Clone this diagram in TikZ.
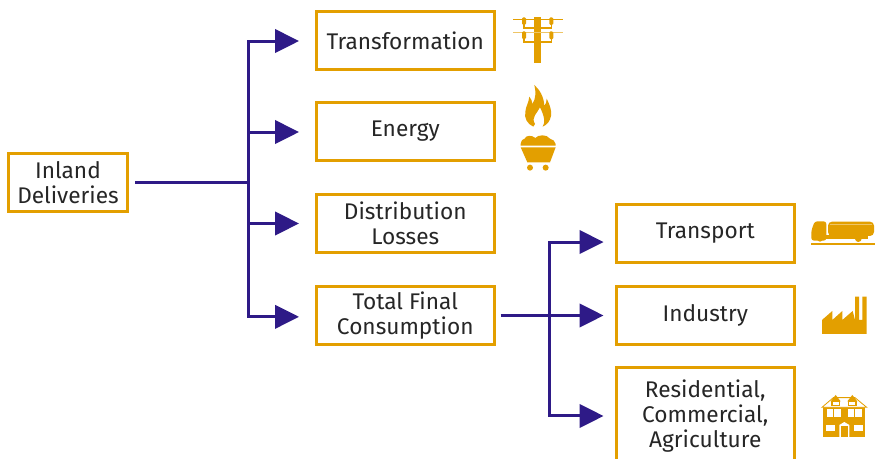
\documentclass[tikz,border=0pt]{standalone}
\usepackage{fontspec}
\setmainfont{Fira Sans}
\usetikzlibrary{arrows.meta}

\definecolor{boxOrange}{HTML}{E39F00}
\definecolor{linkBlue}{HTML}{2E1A87}

\newcommand{\boxWide}{177.5}
\newcommand{\boxHigh}{57.5}
\newcommand{\trunkOne}{248.5}
\newcommand{\trunkTwo}{549}

\tikzset{
  flowBox/.style={draw=boxOrange, line width=2.25pt, align=center, inner sep=0pt,
    minimum width=\boxWide*0.75pt, minimum height=\boxHigh*0.75pt,
    font=\fontsize{17pt}{18.8pt}\selectfont, text=black!85},
  flowLink/.style={draw=linkBlue, line width=2.25pt, shorten >=12pt,
    -{Triangle[length=18pt,width=17.5pt,fill=linkBlue]}},
  flowLine/.style={draw=linkBlue, line width=2.25pt},
  iconFill/.style={fill=boxOrange, draw=none}
}

\begin{document}
\begin{tikzpicture}[x=0.75pt,y=-0.75pt]

  \path[use as bounding box, clip] (0,0) rectangle (875,459);
  \fill[white] (0,0) rectangle (875,459);

  % Boxes:
  \node[flowBox, minimum width=119*0.75pt] (inland) at (68,182.5) {Inland\\Deliveries};
  \node[flowBox] (transformation) at (405.25,40.5)  {Transformation};
  \node[flowBox] (energy)         at (405.25,131.5) {Energy};
  \node[flowBox] (distribution)   at (405.25,223.5) {Distribution\\Losses};
  \node[flowBox] (finalUse)       at (405.25,315.5) {Total Final\\Consumption};
  \node[flowBox] (transport)      at (705.25,233.5) {Transport};
  \node[flowBox] (industry)       at (705.25,315.5) {Industry};
  \node[flowBox, minimum height=96*0.75pt] (residential) at (705.25,416) {Residential,\\Commercial,\\Agriculture};

  % Free ends:
  \coordinate (hubOne) at (\trunkOne,182.5);
  \coordinate (hubTwo) at (\trunkTwo,316);

  % Links, first level:
  \draw[flowLine, shorten <=4.5pt] (inland.east) -- (hubOne);
  \draw[flowLink] (hubOne) |- ([yshift=-0.4pt]transformation.west);
  \draw[flowLink] (hubOne) |- ([yshift=-0.4pt]energy.west);
  \draw[flowLink] (hubOne) |- (distribution.west);
  \draw[flowLink] (hubOne) |- ([yshift=-1pt]finalUse.west);

  % Links, second level:
  \draw[flowLink, shorten <=3.75pt, shorten >=8.6pt] (finalUse.east) -- (industry.west);
  \draw[flowLink, shorten >=8.6pt] (hubTwo) |- ([yshift=-6.4pt]transport.west);
  \draw[flowLink, shorten >=8.6pt] (hubTwo) |- (residential.west);

  % Icons:
    % Pylon:
    \begin{scope}[shift={(500,0)},scale=0.3333]
      \fill[iconFill] (103,50) rectangle (123,190);
      \draw[boxOrange, line width=0.75pt] (40,58) -- (188,58);
      \draw[boxOrange!60, line width=0.75pt] (40,98) -- (188,98);
      \fill[iconFill] (70,81) rectangle (156,87);
      \fill[iconFill] (70,123) rectangle (156,130);
      \foreach \px in {72,154} {
        \fill[iconFill, rounded corners=1pt] (\px-6,52) rectangle (\px+6,75);
        \fill[iconFill, rounded corners=1pt] (\px-6,94) rectangle (\px+6,118);
        \fill[iconFill] (\px-2,75) rectangle (\px+2,81);
        \fill[iconFill] (\px-2,118) rectangle (\px+2,123);
      }
    \end{scope}
    % Flame:
    \begin{scope}[shift={(500,0)},scale=0.3333]
      \fill[iconFill, even odd rule] (100,380) .. controls (82,372) and (72,355) .. (76,335)
        .. controls (78,318) and (86,308) .. (88,290) .. controls (94,296) and (96,304) .. (97,312)
        .. controls (108,296) and (108,275) .. (103,255) .. controls (118,268) and (132,290) .. (133,318)
        .. controls (138,312) and (140,304) .. (140,296) .. controls (148,312) and (156,330) .. (153,348)
        .. controls (150,365) and (140,375) .. (128,380)
        .. controls (136,368) and (134,350) .. (120,322)
        .. controls (112,340) and (92,352) .. (105,372) -- cycle;
    % Coal cart:
      \fill[iconFill] (62,432) .. controls (64,422) and (68,416) .. (74,416) .. controls (78,405) and (96,405) .. (106,414)
        .. controls (114,404) and (140,402) .. (150,416) .. controls (158,418) and (166,424) .. (167,432)
        -- (167,437) -- (62,437) -- cycle;
      \fill[iconFill] (62,442) -- (167,442) -- (150,487) -- (82,487) -- cycle;
      \fill[iconFill] (90,503) circle[radius=9];
      \fill[iconFill] (137,503) circle[radius=9];
    \end{scope}
    % Truck:
    \begin{scope}[shift={(800,210)},scale=0.3333]
      \fill[iconFill] (33,98) rectangle (225,104);
      \fill[iconFill, rounded corners=2pt] (34,92) -- (34,62) -- (44,34) -- (79,34) -- (79,92) -- cycle;
      \fill[iconFill, rounded corners=3pt] (84,35) rectangle (222,78);
      \fill[iconFill] (79,76) rectangle (205,87);
      \fill[iconFill] (60,86) circle[radius=9];
      \fill[iconFill] (175,86) circle[radius=10];
      \draw[boxOrange!60, line width=0.4pt] (90,42) -- (216,42);
    \end{scope}
    % Factory:
    \begin{scope}[shift={(800,210)},scale=0.3333]
      \fill[iconFill] (66,372) -- (66,330) -- (97,303) -- (97,330) -- (127,303) -- (127,330) -- (158,303)
        -- (165,330) -- (165,260) -- (177,260) -- (177,330) -- (187,330) -- (187,260) -- (200,260) -- (200,372) -- cycle;
    \end{scope}
    % House:
    \begin{scope}[shift={(800,210)},scale=0.3333]
      \fill[iconFill] (70,592) rectangle (196,682);
      \draw[boxOrange, line width=0.6pt, fill=white] (66,592) -- (100,563) -- (165,563) -- (200,592) -- cycle;
      \foreach \dx in {107,157} {
        \fill[iconFill] (\dx-15,574) -- (\dx,555) -- (\dx+15,574) -- cycle;
        \fill[iconFill] (\dx-13,574) rectangle (\dx+13,588);
        \fill[white] (\dx-9,575) rectangle (\dx+9,585);
      }
      \foreach \wx in {81,103,143,166} {
        \fill[white] (\wx,597) rectangle (\wx+19,620);
      }
      \fill[white] (78,646) rectangle (104,664);
      \fill[white] (162,646) rectangle (188,664);
      \fill[white] (118,682) -- (118,645) -- (133,636) -- (148,645) -- (148,682) -- cycle;
      \fill[iconFill] (122,682) rectangle (144,647);
    \end{scope}

\end{tikzpicture}
\end{document}
